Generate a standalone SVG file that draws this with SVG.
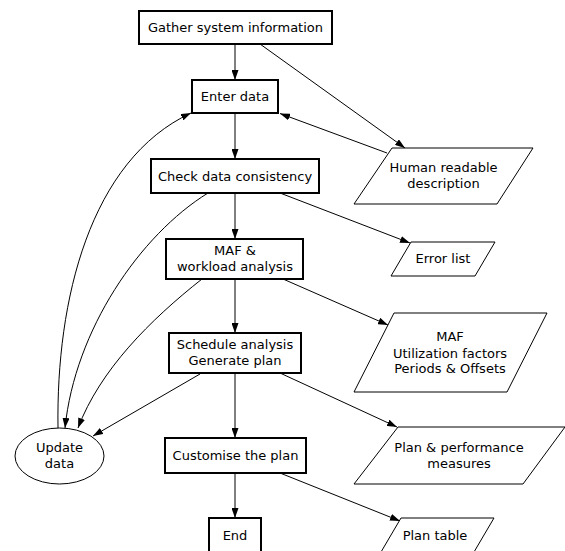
<svg xmlns="http://www.w3.org/2000/svg" width="565" height="551" viewBox="0 0 565 551">
<defs>
<marker id="ah" markerWidth="10" markerHeight="7" refX="10" refY="3.5" orient="auto" markerUnits="userSpaceOnUse">
<path d="M0,0 L10,3.5 L0,7 z" fill="#000"/>
</marker>
<style>
.box{fill:#fff;stroke:#000;stroke-width:2}
.io{fill:#fff;stroke:#000;stroke-width:1}
.e{fill:none;stroke:#000;stroke-width:1;marker-end:url(#ah)}
text{font-family:"DejaVu Sans",sans-serif;font-size:13px;text-anchor:middle;fill:#000}
</style>
</defs>
<rect width="565" height="551" fill="#fff"/>
<g id="connectors">
<path class="e" d="M235,44 L235,80"/>
<path class="e" d="M260,44 L405,148"/>
<path class="e" d="M387,153 L280,113.5"/>
<path class="e" d="M235,113 L235,159"/>
<path class="e" d="M280,193 L410,243"/>
<path class="e" d="M235,193 L235,239"/>
<path class="e" d="M283,279 L388,325"/>
<path class="e" d="M235,279 L235,333"/>
<path class="e" d="M280,373 L397,427"/>
<path class="e" d="M235,373 L235,438"/>
<path class="e" d="M280,473 L400,521"/>
<path class="e" d="M235,473 L235,518"/>
<path class="e" d="M58,428 C56,300 90,160 191,113"/>
<path class="e" d="M208,193 C140,235 75,330 65,428"/>
<path class="e" d="M202,279 C150,320 100,370 78,428"/>
<path class="e" d="M200,374 L93,436"/>
</g>
<g id="gather"><rect class="box" x="139" y="11" width="193" height="33"/><text x="235.5" y="32">Gather system information</text></g>
<g id="enter"><rect class="box" x="192" y="80" width="86" height="33"/><text x="235" y="101">Enter data</text></g>
<g id="check"><rect class="box" x="151" y="159" width="168" height="34"/><text x="235" y="180.5">Check data consistency</text></g>
<g id="maf"><rect class="box" x="166" y="239" width="137" height="40"/><text x="235" y="255">MAF &amp;</text><text x="235" y="271">workload analysis</text></g>
<g id="schedule"><rect class="box" x="169" y="333" width="132" height="40"/><text x="235" y="349">Schedule analysis</text><text x="235" y="365">Generate plan</text></g>
<g id="customise"><rect class="box" x="165" y="438" width="141" height="35"/><text x="235.5" y="460">Customise the plan</text></g>
<g id="end"><rect class="box" x="209" y="518" width="52" height="40"/><text x="235" y="540">End</text></g>
<g id="update"><ellipse class="io" cx="59.5" cy="456" rx="44.5" ry="28"/><text x="59.5" y="451.5">Update</text><text x="59.5" y="467.5">data</text></g>
<g id="human"><polygon class="io" points="392,148 533,148 497,204 354,204"/><text x="443.5" y="171.5">Human readable</text><text x="443.5" y="187.5">description</text></g>
<g id="error"><polygon class="io" points="411,242 495,242 475,276 391,276"/><text x="443" y="262.5">Error list</text></g>
<g id="mafout"><polygon class="io" points="394,313 547,313 507,392 354,392"/><text x="450" y="340.5">MAF</text><text x="450" y="357.5">Utilization factors</text><text x="450" y="372.5">Periods &amp; Offsets</text></g>
<g id="plan"><polygon class="io" points="398,427 565,427 523,484 354,484"/><text x="459" y="451.5">Plan &amp; performance</text><text x="459" y="467.5">measures</text></g>
<g id="table"><polygon class="io" points="401,518 494,518 474,552 381,552"/><text x="435" y="539.5">Plan table</text></g>
</svg>
